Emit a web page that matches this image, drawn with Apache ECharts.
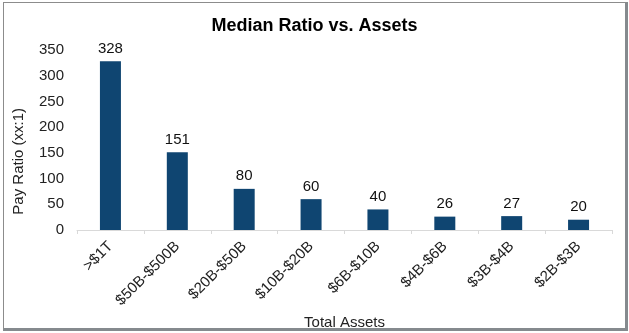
<!DOCTYPE html>
<html><head><meta charset="utf-8">
<script src="https://cdn.jsdelivr.net/npm/echarts@6/dist/echarts.min.js"></script>
<style>
html,body{margin:0;padding:0;background:#fff;}
#frame{position:absolute;left:3px;top:2px;width:621px;height:325px;border-top:1px solid #8c8c8c;border-left:1px solid #8c8c8c;border-right:3px solid #858a8e;border-bottom:3px solid #858a8e;}
#c{position:absolute;left:0;top:0;width:629px;height:333px;}
</style></head>
<body>
<div id="c"></div>
<div id="frame"></div>
<script>
const categories = ['>$1T','$50B-$500B','$20B-$50B','$10B-$20B','$6B-$10B','$4B-$6B','$3B-$4B','$2B-$3B'];
const values = [328,151,80,60,40,26,27,20];
const yTicks = [0,50,100,150,200,250,300,350];

const chart = echarts.init(document.getElementById('c'));
const font = 'Liberation Sans, Arial, sans-serif';
chart.setOption({
  animation:false,
  title:{text:'Median Ratio vs. Assets',left:'center',top:12,
    textStyle:{fontFamily:font,fontSize:18,fontWeight:'bold',color:'#000'}},
  grid:{left:77,right:17,top:50,bottom:103,containLabel:false,outerBoundsMode:'none'},
  graphic:[{type:'text',left:11,top:108,rotation:Math.PI/2,
    style:{text:'Pay Ratio (xx:1)',font:'15px '+font,fill:'#222'}}],
  xAxis:{type:'category',data:categories,
    name:'Total Assets',nameLocation:'middle',nameGap:75,
    nameTextStyle:{fontFamily:font,fontSize:15,color:'#222'},
    axisLine:{lineStyle:{color:'#d9d9d9'}},
    axisTick:{show:true,length:4,lineStyle:{color:'#d9d9d9'}},
    axisLabel:{rotate:45,fontFamily:font,fontSize:15,color:'#222',margin:14,interval:0}},
  yAxis:{type:'value',min:0,max:350,interval:50,
    axisLine:{show:false},axisTick:{show:false},splitLine:{show:false},
    axisLabel:{fontFamily:font,fontSize:15,color:'#222',margin:13,
      formatter:v=>yTicks.includes(v)?String(v):''}},
  series:[{type:'bar',data:values,barWidth:21,
    itemStyle:{color:'#0f4571'},
    label:{show:true,position:'top',distance:5,fontFamily:font,fontSize:15,color:'#111'}}]
});
</script>
</body></html>
